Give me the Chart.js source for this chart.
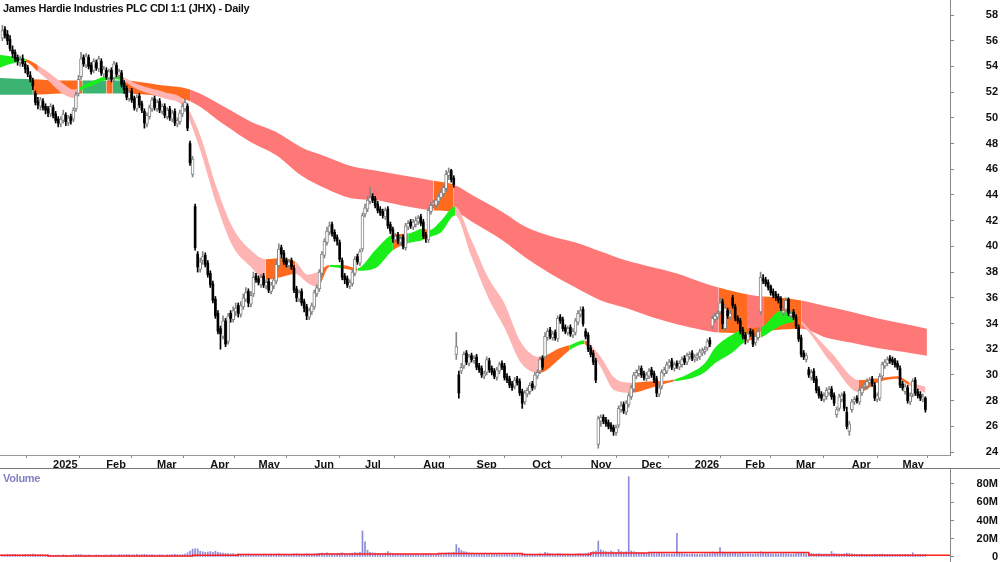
<!DOCTYPE html><html><head><title>JHX Daily</title>
<style>html,body{margin:0;padding:0;background:#fff;overflow:hidden}#wrap{position:relative;width:1000px;height:562px}#main{position:absolute;left:0;top:0}#vol{position:absolute;left:0;top:469px}.lbl{position:absolute;font:bold 11px "Liberation Sans",Arial,sans-serif;white-space:nowrap}#title{left:3px;top:2px;color:#111;letter-spacing:-0.3px}#vlab{left:3px;top:472px;color:#8080c0;letter-spacing:-0.3px}</style>
<script src="https://cdn.jsdelivr.net/npm/chart.js"></script>
</head><body><div id="wrap"><canvas id="main" width="1000" height="469"></canvas><canvas id="vol" width="1000" height="93"></canvas>
<div class="lbl" id="title">James Hardie Industries PLC CDI 1:1 (JHX) - Daily</div><div class="lbl" id="vlab">Volume</div></div>
<script>
// daily candles, index 0 = early Dec 2024
const opens = [56.2,56.9,56.5,56.1,55.3,55.1,54.7,54.3,54.6,54.2, 53.9,53.3,52.9,51.9,51.3,50.9,51.3,50.9,50.7,50.3,
 50.8,50.3,49.9,49.5,49.8,50.2,49.6,50.1,49.9,50.7, 51.9,53.2,54.7,54.1,54.7,54.1,53.7,54.3,53.8,54.4,
 53.4,53.7,53.1,53.7,53.1,54.1,53.3,53.5,52.7,52.3, 51.5,52.1,51.5,50.7,51.7,51.1,50.5,49.5,50.1,50.7,
 51.5,50.7,51.3,50.5,50.9,50.1,50.7,49.9,50.5,49.5, 49.7,50.3,50.7,50.9,48.0,45.6,43.1,39.4,38.2,38.9,
 39.3,38.7,37.9,37.1,35.9,34.8,33.6,33.0,34.2,32.6, 34.8,34.3,34.9,35.4,34.7,35.3,35.9,36.5,35.5,36.3,
 37.7,37.5,37.0,37.7,36.9,37.3,36.5,36.9,37.3,38.5, 39.9,39.5,38.9,38.5,38.9,38.3,36.7,35.9,36.5,35.7,
 35.3,34.5,34.9,35.3,36.3,36.7,37.9,39.3,40.3,41.1, 41.7,41.1,40.7,40.3,38.9,37.7,37.5,36.9,37.1,37.9,
 39.2,38.7,39.8,42.5,42.9,43.5,43.9,43.7,43.3,42.9, 42.7,42.3,42.9,41.7,41.3,40.5,40.9,40.3,40.7,39.9,
 41.5,41.9,41.5,41.7,41.9,42.3,41.9,40.9,40.5,42.7, 43.3,43.2,43.5,43.8,44.1,44.5,45.5,45.9,45.3,31.6,
 30.0,30.3,30.7,31.7,30.9,31.5,31.1,31.4,30.7,30.5, 29.9,30.2,31.1,30.5,30.3,29.8,30.3,30.9,30.7,29.9,
 29.7,29.3,29.1,29.7,29.5,28.7,27.9,28.5,28.7,29.3, 29.1,29.9,30.3,31.3,31.4,32.9,33.5,32.9,33.3,32.8,
 34.5,34.3,33.7,33.3,33.7,33.1,33.3,34.1,34.7,35.1, 33.4,33.1,32.1,31.7,31.1,24.6,26.4,26.7,26.5,26.3,
 26.1,25.9,25.5,26.1,27.3,27.7,27.1,27.7,28.3,28.9, 29.9,30.1,30.5,30.1,29.7,29.9,30.4,30.1,29.7,28.5,
 29.1,30.1,30.3,30.7,31.1,30.5,30.9,30.6,30.8,31.3, 31.0,31.4,31.7,31.2,31.3,31.4,31.7,31.8,32.1,32.7,
 33.8,34.3,34.5,34.9,35.7,33.6,35.0,34.5,36.0,35.3, 34.4,34.2,33.5,33.1,32.7,33.4,33.3,32.5,32.9,34.9,
 37.5,37.4,37.2,36.9,36.5,36.3,36.1,35.9,34.8,35.1, 35.9,34.6,34.9,34.5,33.7,32.9,31.7,31.2,30.4,29.8,
 30.3,29.7,28.9,28.5,28.1,28.3,28.6,28.9,28.4,26.9, 27.4,28.1,28.5,27.1,25.6,27.3,27.9,28.2,27.9,28.6,
 29.1,29.1,29.4,29.7,29.2,28.1,28.2,29.9,30.7,30.9, 31.3,31.2,31.1,30.9,30.5,29.3,28.7,29.0,27.9,28.5,
 29.6,28.7,28.5,28.1,28.2];
const closes = [56.8,56.4,56.0,55.4,55.0,54.6,54.4,54.5,54.2,53.8, 53.4,53.0,52.5,51.2,51.0,51.4,50.8,50.6,50.4,50.9,
 50.2,49.8,49.6,49.9,50.3,49.7,50.0,49.8,50.6,51.8, 53.0,54.6,54.2,54.8,54.0,53.6,54.4,53.9,54.6,53.5,
 53.8,53.2,53.6,53.0,54.2,53.4,53.6,52.6,52.2,51.6, 52.0,51.4,50.8,51.6,51.0,50.6,49.6,50.2,50.8,51.4,
 50.8,51.2,50.6,50.9,50.2,50.6,50.0,50.4,49.6,49.8, 50.4,50.9,51.2,49.2,46.5,46.8,39.9,38.4,38.8,39.2,
 38.6,37.8,37.0,35.8,34.6,33.4,33.2,34.2,32.4,34.6, 34.4,35.0,35.2,34.8,35.4,36.0,36.4,35.6,36.2,37.6,
 37.4,37.2,37.6,37.0,37.2,36.6,37.0,37.4,38.6,39.8, 39.4,38.8,38.6,38.8,38.4,36.6,36.0,36.4,35.6,35.2,
 34.6,35.0,35.4,36.4,36.8,38.0,39.4,40.4,41.2,41.6, 41.0,40.6,40.4,39.0,37.6,37.4,37.0,37.2,38.0,39.0,
 38.8,39.6,42.4,43.0,43.6,43.8,43.6,43.2,42.8,42.6, 42.4,42.8,41.6,41.2,40.6,40.8,40.4,40.6,40.0,41.6,
 41.8,41.6,41.9,42.0,42.2,41.8,40.8,40.6,42.8,43.2, 43.4,43.6,43.9,44.2,44.6,45.6,45.8,45.2,44.8,32.2,
 28.6,30.6,31.6,31.0,31.4,31.2,31.3,30.6,30.4,30.0, 30.1,31.2,30.4,30.2,29.9,30.4,30.8,30.6,29.8,29.6,
 29.2,29.0,29.6,29.4,28.6,27.8,28.6,28.8,29.2,29.0, 30.0,30.2,31.2,30.6,33.0,33.4,33.0,33.2,32.9,34.4,
 34.2,33.6,33.4,33.6,33.2,33.4,34.2,34.8,35.0,34.0, 33.0,32.0,31.6,31.0,29.6,26.6,26.7,26.4,26.2,26.0,
 25.8,25.6,25.9,27.4,27.6,27.2,27.8,28.4,29.0,30.0, 30.2,30.4,30.0,29.8,30.0,30.3,30.0,29.6,28.6,29.0,
 30.2,30.4,30.8,31.0,30.6,30.8,30.7,30.9,31.2,31.0, 31.5,31.6,31.3,31.4,31.5,31.8,31.9,32.0,32.6,32.4,
 34.4,34.6,34.8,35.6,34.0,35.2,34.6,34.8,35.4,34.4, 34.2,33.4,33.0,32.8,33.2,33.2,32.4,33.0,33.4,37.6,
 37.3,37.1,36.8,36.4,36.2,36.0,35.8,35.2,35.0,35.8, 34.8,34.8,34.5,33.8,32.8,31.6,31.4,31.5,30.0,30.2,
 29.6,28.8,28.4,28.2,28.4,28.8,28.9,28.3,27.8,27.3, 28.3,28.4,27.4,26.0,26.2,27.9,28.1,28.0,28.8,29.0,
 29.2,29.5,29.6,29.3,28.2,28.4,29.9,30.8,31.0,31.2, 31.1,31.0,30.8,30.6,29.2,29.0,29.1,28.0,28.4,29.5,
 28.6,28.4,28.2,28.3,27.3];
const highs = [57.2,57.1,56.8,56.4,55.6,55.3,54.9,54.8,54.9,54.4, 54.1,53.6,53.1,52.1,51.6,51.6,51.5,51.1,50.9,51.1,
 51.0,50.5,50.1,50.1,50.6,50.4,50.2,50.3,50.8,52.0, 53.3,55.1,54.9,55.0,54.9,54.3,54.6,54.5,54.8,54.6,
 54.0,53.9,53.8,53.9,54.4,54.3,53.8,53.7,52.9,52.5, 52.3,52.3,51.7,51.8,51.9,51.3,50.7,50.4,51.0,51.6,
 51.7,51.4,51.5,51.1,51.1,50.8,50.9,50.6,50.7,50.0, 50.6,51.1,51.5,51.1,48.2,47.0,43.3,39.6,39.1,39.6,
 39.5,38.9,38.1,37.3,36.1,35.0,33.8,34.6,34.4,34.8, 35.0,35.3,35.6,35.6,35.7,36.3,36.8,36.7,36.5,38.0,
 37.9,37.7,37.8,37.9,37.4,37.5,37.2,37.6,38.9,40.2, 40.1,39.7,39.1,39.0,39.1,38.5,36.9,36.6,36.7,35.9,
 35.5,35.2,35.6,36.6,37.0,38.2,39.6,40.6,41.5,41.9, 41.9,41.3,40.9,40.5,39.1,37.9,37.7,37.4,38.2,39.2,
 39.4,39.8,42.6,43.3,43.9,44.6,44.1,43.9,43.5,43.1, 42.9,43.0,43.1,41.9,41.5,41.0,41.1,40.8,40.9,41.8,
 42.0,42.1,42.1,42.3,42.4,42.5,42.1,41.1,43.0,43.4, 43.6,43.8,44.1,44.4,44.8,45.9,46.1,46.0,45.5,33.3,
 30.3,30.9,31.8,31.9,31.6,31.7,31.5,31.6,30.9,30.7, 30.3,31.4,31.3,30.7,30.5,30.6,31.0,31.1,30.9,30.1,
 29.9,29.5,29.8,29.9,29.7,28.9,28.8,29.0,29.4,29.5, 30.2,30.4,31.4,31.5,33.3,33.6,33.7,33.4,33.5,34.6,
 34.7,34.5,33.9,33.8,33.9,33.6,34.4,35.0,35.3,35.3, 33.6,33.3,32.3,31.9,31.3,26.8,26.9,26.9,26.7,26.5,
 26.3,26.1,26.1,27.6,27.9,27.9,28.0,28.6,29.2,30.2, 30.4,30.7,30.7,30.3,30.2,30.5,30.6,30.3,29.9,29.2,
 30.4,30.6,31.0,31.2,31.3,31.0,31.1,31.1,31.4,31.5, 31.7,31.8,31.9,31.6,31.7,32.0,32.1,32.2,32.8,32.9,
 34.6,34.8,35.0,36.0,35.9,35.5,35.2,35.0,36.2,35.5, 34.6,34.4,33.7,33.3,33.4,33.6,33.5,33.2,33.6,38.0,
 37.8,37.6,37.4,37.0,36.7,36.5,36.3,36.1,35.3,36.0, 36.0,35.0,35.1,34.7,33.9,33.1,31.9,31.7,30.6,30.4,
 30.5,29.9,29.1,28.7,28.6,29.0,29.1,29.1,28.6,27.5, 28.5,28.6,28.7,27.5,26.4,28.1,28.3,28.4,29.0,29.2,
 29.4,29.7,29.8,29.9,29.4,28.6,30.1,31.0,31.2,31.4, 31.5,31.4,31.3,31.1,30.7,29.5,29.3,29.2,28.6,29.7,
 29.8,28.9,28.7,28.5,28.3];
const lows = [56.0,56.2,55.7,55.2,54.7,54.4,54.1,54.0,54.0,53.5, 53.2,52.8,52.2,51.0,50.7,50.6,50.6,50.3,50.1,50.1,
 50.0,49.6,49.3,49.3,49.6,49.4,49.4,49.5,49.7,50.5, 51.7,53.0,54.0,53.9,53.8,53.4,53.5,53.7,53.6,53.3,
 53.2,53.0,52.9,52.8,52.9,53.2,53.1,52.4,51.9,51.4, 51.3,51.2,50.6,50.5,50.8,50.4,49.2,49.3,49.9,50.5,
 50.6,50.5,50.4,50.3,50.0,49.9,49.8,49.7,49.4,49.3, 49.5,50.1,50.5,49.0,46.3,45.4,39.7,38.0,38.0,38.6,
 38.4,37.6,36.8,35.6,34.4,33.2,32.0,32.8,32.2,32.4, 34.1,34.1,34.6,34.5,34.5,35.1,35.7,35.3,35.3,36.1,
 37.2,37.0,36.8,36.8,36.7,36.4,36.3,36.7,37.1,38.3, 39.1,38.6,38.4,38.3,38.2,36.4,35.7,35.7,35.4,34.9,
 34.3,34.3,34.7,35.1,36.1,36.5,37.7,39.1,40.1,40.9, 40.8,40.4,40.1,38.8,37.4,37.1,36.8,36.7,36.9,37.7,
 38.6,38.5,39.6,42.3,42.7,43.3,43.4,43.0,42.6,42.4, 42.2,42.1,41.4,41.0,40.3,40.3,40.2,40.1,39.8,39.7,
 41.3,41.4,41.3,41.5,41.7,41.6,40.6,40.3,40.3,42.5, 43.0,43.0,43.3,43.6,43.9,44.3,45.2,45.0,44.6,31.2,
 28.2,30.1,30.5,30.8,30.7,31.0,30.9,30.4,30.2,29.8, 29.7,30.0,30.2,30.0,29.7,29.6,30.1,30.4,29.6,29.4,
 29.0,28.8,28.9,29.2,28.4,27.4,27.7,28.3,28.5,28.8, 28.9,29.7,30.1,30.4,31.2,32.7,32.8,32.7,32.7,32.6,
 34.0,33.4,33.2,33.1,33.0,32.9,33.1,33.9,34.5,33.8, 32.8,31.8,31.4,30.8,29.4,24.3,26.0,26.2,26.0,25.8,
 25.6,25.3,25.3,25.9,27.1,27.0,26.9,27.5,28.1,28.7, 29.7,29.9,29.8,29.6,29.5,29.7,29.8,29.4,28.3,28.3,
 28.9,29.9,30.1,30.5,30.4,30.3,30.5,30.4,30.6,30.8, 30.8,31.2,31.1,31.0,31.1,31.2,31.5,31.6,31.9,32.2,
 33.6,34.1,34.3,34.7,33.6,33.4,34.4,34.3,35.2,34.2, 34.0,33.2,32.8,32.4,32.5,33.0,32.2,32.3,32.7,34.7,
 37.1,36.9,36.6,36.2,36.0,35.8,35.6,35.0,34.6,34.9, 34.6,34.4,34.3,33.6,32.6,31.4,31.2,31.0,29.8,29.6,
 29.4,28.6,28.2,28.0,27.9,28.1,28.4,28.1,27.6,26.7, 27.2,27.9,27.2,25.8,25.3,27.1,27.7,27.8,27.7,28.4,
 28.9,28.9,29.2,29.1,28.0,27.9,28.0,29.7,30.5,30.7, 30.9,30.8,30.6,30.4,29.0,28.8,28.5,27.8,27.7,28.3,
 28.4,28.2,28.0,27.9,27.1];
// volume, millions
const volumes = [2.5,2.2,2.8,2.4,2.6,3.0,2.3,2.1,2.5,2.7, 2.4,2.9,3.1,2.6,2.2,2.4,2.0,1.9,2.3,2.1,
 1.8,2.0,2.2,1.9,2.4,2.1,1.8,2.0,2.3,2.6, 2.8,2.5,2.2,2.0,2.3,2.1,1.9,2.4,2.2,2.0,
 2.1,2.3,2.0,2.6,2.4,2.2,2.5,2.7,2.4,2.8, 2.6,2.3,2.5,2.9,2.4,2.6,3.0,2.7,2.3,2.5,
 2.4,2.2,2.6,2.3,2.1,2.5,2.4,2.7,2.9,2.6, 2.4,2.8,3.2,4.5,6.5,8.6,9.0,8.8,6.2,5.8,
 5.0,5.4,6.0,5.2,6.4,5.0,4.6,4.4,4.0,3.8, 3.5,3.6,3.2,3.4,3.0,3.1,2.9,3.3,3.0,2.8,
 2.9,3.1,2.7,3.0,2.6,2.8,3.2,2.9,3.3,3.5, 3.0,2.8,3.1,2.7,2.9,3.4,3.6,3.2,3.0,3.3,
 3.8,3.4,3.1,3.5,3.7,3.9,4.2,3.8,4.5,4.0, 3.6,3.4,3.9,4.1,4.6,3.8,3.5,3.7,4.2,4.8,
 4.4,5.0,28.5,16.5,7.5,5.2,4.6,4.3,4.0,3.8, 3.6,4.2,5.8,4.4,3.9,3.6,3.4,3.5,3.2,3.6,
 3.3,3.0,3.2,3.4,3.1,2.9,3.5,3.8,3.4,3.2, 3.0,3.3,3.6,3.4,3.8,4.2,4.6,4.4,5.0,13.5,
 9.8,7.2,6.0,5.4,4.6,4.2,3.8,3.6,3.5,3.3, 3.4,3.1,3.0,2.9,3.2,3.0,2.8,2.6,3.1,2.9,
 2.7,2.9,3.2,2.8,3.4,3.9,3.5,3.0,2.8,2.6, 2.9,3.1,3.8,3.0,5.2,4.4,3.8,3.5,3.2,4.0,
 3.6,3.3,3.1,3.4,3.0,2.9,3.3,3.6,3.9,3.4, 3.8,4.6,5.0,5.8,6.5,17.5,7.8,6.6,5.8,5.4,
 6.4,5.6,5.0,8.2,6.0,5.4,5.8,88.0,6.6,5.8, 5.2,4.8,4.4,4.2,3.9,3.8,4.0,3.6,3.9,4.2,
 3.8,3.6,3.4,3.5,3.2,3.6,26.0,4.4,3.8,3.5, 3.3,3.0,3.4,3.2,3.1,3.0,3.3,3.6,3.4,3.8,
 5.6,4.8,4.2,10.2,5.4,4.8,4.4,4.0,4.6,4.2, 3.8,4.0,3.6,3.4,3.8,3.5,3.3,3.6,3.4,5.8,
 4.6,4.2,3.9,3.6,3.4,3.5,3.3,3.6,3.8,3.4, 3.6,3.2,3.5,3.8,4.2,4.6,3.9,3.6,4.0,3.8,
 3.5,3.4,3.6,3.3,3.1,3.4,3.2,6.0,3.8,3.5, 3.3,3.0,3.4,4.2,3.9,3.5,3.2,3.0,2.9,3.1,
 2.8,3.0,2.7,2.9,3.1,2.8,3.0,3.3,3.0,2.8, 2.6,2.9,2.7,2.5,2.8,2.6,2.9,2.7,2.5,4.6,
 2.8,2.6,2.9,2.7,3.0];
// volume average (stepped), start index and value
const volAvgX = [-1, 18, 75, 93, 125, 172, 205, 232, 255, 318, 333, 374];
const volAvg = [1.8, 1.0, 2.0, 2.8, 3.4, 3.8, 2.6, 4.4, 5.0, 2.3, 1.8, 1.8];

// long-term ribbon (edges, price)
const longX = [-1,12,23,31.5,38.6,41,43.5,47.7,62,74,88,98,108,118,127.5,137.4,147,157,170,178,187,197,206.5,216,226,236,246,256,266,276,282.5,294,300,305,315,325,335,345,355,364.6];
const longTop = [53.1,53.0,52.9,52.9,52.9,52.9,52.9,52.9,52.55,52.2,50.8,49.7,48.9,47.7,47.0,46.25,45.9,45.55,45.1,44.8,43.8,42.7,41.5,40.8,40.3,39.6,38.9,38.4,37.9,37.2,36.8,36.25,36.1,36.05,35.8,35.35,34.9,34.4,34.0,33.6];
const longBot = [51.8,51.8,51.9,51.9,51.9,51.9,51.9,51.9,51.7,51.3,49.4,48.1,47.1,45.5,44.5,43.75,43.6,43.2,42.8,42.7,41.7,40.5,39.1,37.9,36.8,35.8,35.2,34.5,33.95,33.5,33.3,33.25,33.4,33.5,33.6,32.9,32.5,32.1,31.8,31.5];
const longZoneStart = [-1,12,31.5,41,43.5,47.7,74,170,178,282.5,294,300,315];
const longZoneKind = ['bull','mix','bull','mix','bull','mix','bear','mix','bear','mix','bear','mix','bear'];

// short-term ribbon
const shortX = [-1,3,9,14,17,23,28,30,31.5,36.6,40,43.3,48,52.4,58.3,64,71.4,74,78,84.8,91,98,103.8,109.7,115.6,120.4,124.3,129,134,140,147,154,160,166,168.2,173,178.5,185,191.5,197.9,204.6,211.7,220,223.5,229.5,231,236,241.3,248,256,265,271.8,277,281,287.6,292.7,299,307,312,315,327,337.8,345.7,353,357.5,364];
const shortTop = [54.9,54.8,54.6,54.1,53.7,52.8,52.2,52.3,52.5,52.95,53.2,53.25,53.15,52.7,52.3,52.0,51.4,50.45,48.65,44.4,41.4,39.7,39.0,39.1,38.8,37.8,38.0,38.55,38.55,38.3,39.7,40.9,41.0,41.4,41.25,42.0,43.1,40.5,37.6,35.6,32.5,31.4,32.1,32.3,32.7,32.5,31.4,29.8,29.4,29.5,29.65,30.2,30.9,32.1,33.1,33.6,33.7,35.0,34.9,34.25,31.7,29.6,29.75,29.9,29.45,29.1];
const shortBot = [53.9,54.2,54.35,53.6,53.1,52.0,51.55,52.0,52.2,52.6,52.9,53.0,52.85,52.3,51.85,51.5,50.85,49.7,47.5,43.05,39.95,38.4,37.4,37.6,37.85,37.15,36.85,38.4,38.3,38.1,38.3,39.7,40.25,40.5,40.7,41.1,42.4,39.2,36.05,33.7,30.9,30.15,31.3,31.9,32.4,32.1,30.6,28.8,28.6,29.0,29.5,29.75,30.2,30.9,31.7,32.55,32.9,33.85,34.1,33.95,30.9,28.65,29.45,29.7,29.2,28.6];
const shortZoneStart = [-1,9,14,30,48,103.8,115.6,124.3,129,134,140,154,160,166,168.2,178.5,211.7,223.5,229.5,231,248,265,292.7,299,312,315,337.8,357.5];
const shortZoneKind = ['bull','mix','bear','bull','bear','mix','bear','mix','bull','mix','bull','mix','bull','mix','bull','bear','mix','bull','mix','bear','mix','bull','mix','bull','mix','bear','mix','bear'];

const monthTicks = [20,41,61,82,101,123,143,166,187,209,232,252,273,293,313,335,355];
const monthLabels = ['2025','Feb','Mar','Apr','May','Jun','Jul','Aug','Sep','Oct','Nov','Dec','2026','Feb','Mar','Apr','May'];
const priceTicks = [24,26,28,30,32,34,36,38,40,42,44,46,48,50,52,54,56,58];
const volTicks = [0,20,40,60,80];

const longColors = {bull:'#3cb371', mix:'#ff6a1e', bear:'#ff7878'};
const shortColors = {bull:'#19ee19', mix:'#ff6a1e', bear:'#ffb4b4'};
const X_MIN = -0.95, X_MAX = 373.7;

Chart.defaults.font.family = '"Liberation Sans", Arial, sans-serif';
Chart.defaults.font.size = 11;
Chart.defaults.font.weight = 'bold';
Chart.defaults.color = '#111';

function zoneColor(starts, kinds, palette, x) {
  let k = 0;
  for (let i = 0; i < starts.length; i++) if (x >= starts[i]) k = i;
  return palette[kinds[k]];
}
const mid = ctx => (ctx.p0.parsed.x + ctx.p1.parsed.x) / 2;
const edge = (xs, ys) => xs.map((x, i) => ({x, y: ys[i]}));
const bandLine = (xs, ys, order) => ({type:'line', data: edge(xs, ys), borderColor:'rgba(0,0,0,0)', borderWidth:0, pointRadius:0, cubicInterpolationMode:'monotone', fill:false, order});
// fixed axis sizes, no label overhang padding
const fitY = s => { s.width = 48; s.paddingTop = 0; s.paddingBottom = 0; };
const fitX = s => { s.height = 14; s.paddingLeft = 0; s.paddingRight = 0; };

const idx = closes.map((_, i) => i);
const up = idx.map(i => closes[i] >= opens[i]);
const upIdx = idx.filter(i => up[i]);
const downIdx = idx.filter(i => !up[i]);
const GREY = '#858585';

const longTopDs = bandLine(longX, longTop, 20);
const longBotDs = Object.assign(bandLine(longX, longBot, 20), {fill: 0, backgroundColor: longColors.bear,
  segment: {backgroundColor: ctx => zoneColor(longZoneStart, longZoneKind, longColors, mid(ctx))}});
const shortTopDs = bandLine(shortX, shortTop, 15);
const shortBotDs = Object.assign(bandLine(shortX, shortBot, 15), {fill: 2, backgroundColor: shortColors.bear,
  segment: {backgroundColor: ctx => zoneColor(shortZoneStart, shortZoneKind, shortColors, mid(ctx))}});

const wicks = {type:'bar', data: idx.map(i => ({x:i, y:[lows[i], highs[i]]})), barThickness:1, grouped:false,
  backgroundColor: idx.map(i => up[i] ? GREY : '#000'), order:3};
const upBodies = {type:'bar', data: upIdx.map(i => ({x:i, y:[opens[i], closes[i]]})), barThickness:3, grouped:false, minBarLength:1,
  backgroundColor:'#fff', borderColor:GREY, borderWidth:1, borderSkipped:false, order:2};
const downBodies = {type:'bar', data: downIdx.map(i => ({x:i, y:[opens[i], closes[i]]})), barThickness:2, grouped:false, minBarLength:1,
  backgroundColor:'#000', order:1};

const frame = {id:'frame', afterDraw(c) {
  const g = c.ctx; g.save(); g.strokeStyle = '#777'; g.lineWidth = 1;
  g.beginPath(); g.moveTo(0, c.height - 0.5); g.lineTo(c.width, c.height - 0.5); g.stroke(); g.restore();
}};

new Chart(document.getElementById('main'), {
  type:'bar',
  data:{datasets:[longTopDs, longBotDs, shortTopDs, shortBotDs, wicks, upBodies, downBodies]},
  options:{
    responsive:false, animation:false, devicePixelRatio:1,
    layout:{padding:{left:0, right:2, top:0, bottom:0}},
    plugins:{legend:{display:false}, tooltip:{enabled:false}},
    scales:{
      x:{type:'linear', min:X_MIN, max:X_MAX, offset:false,
        afterBuildTicks: s => { s.ticks = monthTicks.map(v => ({value:v})); },
        afterFit: fitX,
        ticks:{autoSkip:false, maxRotation:0, align:'start', padding:0, callback:(v, i) => monthLabels[i]},
        grid:{drawOnChartArea:false, tickLength:3, color:'#888'},
        border:{color:'#999'}},
      y:{position:'right', min:23.77, max:59.17,
        afterBuildTicks: s => { s.ticks = priceTicks.map(v => ({value:v})); },
        afterFit: fitY,
        ticks:{crossAlign:'far', padding:28},
        grid:{drawOnChartArea:false, tickLength:4, color:'#888'},
        border:{color:'#888'}}
    }
  },
  plugins:[frame]
});

new Chart(document.getElementById('vol'), {
  type:'bar',
  data:{datasets:[
    {type:'line', data: edge(volAvgX, volAvg), stepped:true, borderColor:'#ff2020', borderWidth:1.5, pointRadius:0, order:1},
    {type:'bar', data: idx.map(i => ({x:i, y:volumes[i]})), barThickness:1, grouped:false, backgroundColor:'#8a8ad8', order:2}
  ]},
  options:{
    responsive:false, animation:false, devicePixelRatio:1,
    layout:{padding:{left:0, right:2, top:0, bottom:0}},
    plugins:{legend:{display:false}, tooltip:{enabled:false}},
    scales:{
      x:{type:'linear', min:X_MIN, max:X_MAX, offset:false, display:false},
      y:{position:'right', min:-5.5, max:96.4,
        afterBuildTicks: s => { s.ticks = volTicks.map(v => ({value:v})); },
        afterFit: fitY,
        ticks:{crossAlign:'far', padding:20, callback: v => v === 0 ? '0' : v + 'M'},
        grid:{drawOnChartArea:false, tickLength:4, color:'#888'},
        border:{color:'#888'}}
    }
  }
});
</script>
</body></html>
